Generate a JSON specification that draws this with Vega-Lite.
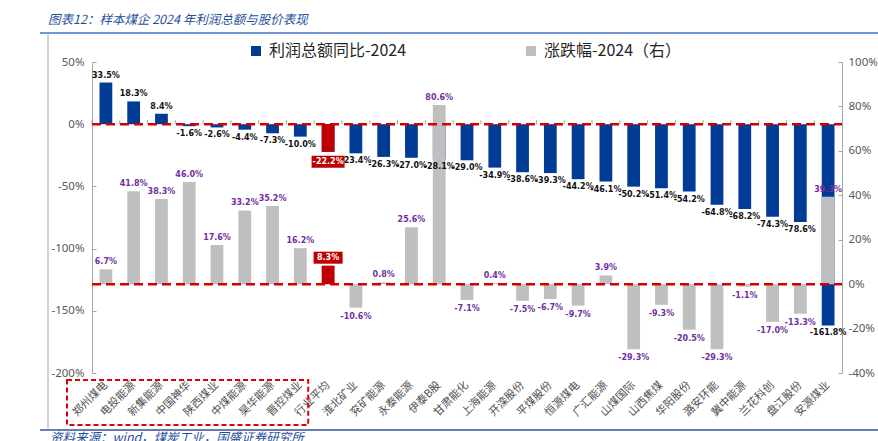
{
  "$schema": "https://vega.github.io/schema/vega-lite/v6.json",
  "width": 750,
  "height": 311,
  "autosize": {"type": "none"},
  "padding": {"left": 92, "top": 62, "right": 36, "bottom": 68},
  "background": "white",
  "config": {
    "view": {"stroke": null},
    "locale": {"number": {"decimal": ".", "thousands": ",", "grouping": [3], "currency": ["", ""], "minus": "-"}}
  },
  "title": {
    "text": "图表12：样本煤企 2024 年利润总额与股价表现",
    "anchor": "start",
    "frame": "group",
    "dx": -44,
    "offset": 6,
    "font": "Noto Sans CJK SC",
    "fontSize": 12.5,
    "fontStyle": "italic",
    "fontWeight": "normal",
    "color": "#1F4E9A"
  },
  "data": {
    "values": [
      {"name": "郑州煤电", "profit": 33.5, "change": 6.7},
      {"name": "电投能源", "profit": 18.3, "change": 41.8},
      {"name": "新集能源", "profit": 8.4, "change": 38.3},
      {"name": "中国神华", "profit": -1.6, "change": 46.0},
      {"name": "陕西煤业", "profit": -2.6, "change": 17.6},
      {"name": "中煤能源", "profit": -4.4, "change": 33.2},
      {"name": "昊华能源", "profit": -7.3, "change": 35.2},
      {"name": "晋控煤业", "profit": -10.0, "change": 16.2},
      {"name": "行业平均", "profit": -22.2, "change": 8.3},
      {"name": "淮北矿业", "profit": -23.4, "change": -10.6},
      {"name": "兖矿能源", "profit": -26.3, "change": 0.8},
      {"name": "永泰能源", "profit": -27.0, "change": 25.6},
      {"name": "伊泰B股", "profit": -28.1, "change": 80.6},
      {"name": "甘肃能化", "profit": -29.0, "change": -7.1},
      {"name": "上海能源", "profit": -34.9, "change": 0.4},
      {"name": "开滦股份", "profit": -38.6, "change": -7.5},
      {"name": "平煤股份", "profit": -39.3, "change": -6.7},
      {"name": "恒源煤电", "profit": -44.2, "change": -9.7},
      {"name": "广汇能源", "profit": -46.1, "change": 3.9},
      {"name": "山煤国际", "profit": -50.2, "change": -29.3},
      {"name": "山西焦煤", "profit": -51.4, "change": -9.3},
      {"name": "华阳股份", "profit": -54.2, "change": -20.5},
      {"name": "潞安环能", "profit": -64.8, "change": -29.3},
      {"name": "冀中能源", "profit": -68.2, "change": -1.1},
      {"name": "兰花科创", "profit": -74.3, "change": -17.0},
      {"name": "盘江股份", "profit": -78.6, "change": -13.3},
      {"name": "安源煤业", "profit": -161.8, "change": 39.3}
    ]
  },
  "layer": [
    {
      "mark": {"type": "bar", "width": {"band": 0.46}},
      "encoding": {
        "x": {
          "field": "name",
          "type": "nominal",
          "title": null,
          "scale": {
            "domain": ["郑州煤电", "电投能源", "新集能源", "中国神华", "陕西煤业", "中煤能源", "昊华能源", "晋控煤业", "行业平均", "淮北矿业", "兖矿能源", "永泰能源", "伊泰B股", "甘肃能化", "上海能源", "开滦股份", "平煤股份", "恒源煤电", "广汇能源", "山煤国际", "山西焦煤", "华阳股份", "潞安环能", "冀中能源", "兰花科创", "盘江股份", "安源煤业"],
            "paddingInner": 0,
            "paddingOuter": 0
          },
          "axis": {
            "title": null,
            "labelAngle": -45,
            "labelAlign": "right",
            "labelBaseline": "middle",
            "labelFont": "Noto Sans CJK SC",
            "labelFontSize": 11,
            "labelColor": "#505050",
            "labelPadding": 10,
            "labelOverlap": false,
            "domain": false,
            "ticks": false
          }
        },
        "y": {
          "field": "profit",
          "type": "quantitative",
          "scale": {"domain": [-200, 50], "nice": false},
          "axis": {
            "orient": "left",
            "values": [-200, -150, -100, -50, 0, 50],
            "labelExpr": "datum.value + '%'",
            "grid": false,
            "title": null,
            "domainColor": "#A6A6A6",
            "tickColor": "#A6A6A6",
            "tickSize": -4,
            "labelPadding": 12,
            "labelFont": "Noto Sans",
            "labelFontSize": 11.5,
            "labelColor": "#595959"
          }
        },
        "y2": {"datum": 0},
        "color": {
          "datum": "利润总额同比-2024",
          "type": "nominal",
          "scale": {"domain": ["利润总额同比-2024", "涨跌幅-2024（右）"], "range": ["#003C96", "#BFBFBF"]},
          "legend": {
            "orient": "none",
            "legendX": 156,
            "legendY": -19,
            "direction": "horizontal",
            "title": null,
            "symbolType": "square",
            "symbolSize": 100,
            "symbolStrokeWidth": 0,
            "labelFont": "Noto Sans CJK SC",
            "labelFontSize": 16,
            "labelColor": "#262626",
            "labelOffset": 5,
            "labelLimit": 300,
            "columnPadding": 116
          }
        }
      }
    },
    {
      "transform": [{"filter": "datum.name === '行业平均'"}],
      "mark": {"type": "bar", "width": {"band": 0.46}, "color": "#C00000"},
      "encoding": {
        "x": {"field": "name", "type": "nominal"},
        "y": {"field": "profit", "type": "quantitative", "scale": {"domain": [-200, 50], "nice": false}, "axis": null},
        "y2": {"datum": 0}
      }
    },
    {
      "mark": {"type": "bar", "width": {"band": 0.46}},
      "encoding": {
        "x": {"field": "name", "type": "nominal"},
        "y": {
          "field": "change",
          "type": "quantitative",
          "scale": {"domain": [-40, 100], "nice": false},
          "axis": {
            "orient": "right",
            "values": [-40, -20, 0, 20, 40, 60, 80, 100],
            "labelExpr": "datum.value + '%'",
            "grid": false,
            "title": null,
            "domainColor": "#A6A6A6",
            "tickColor": "#A6A6A6",
            "tickSize": -4,
            "labelPadding": 10,
            "labelFont": "Noto Sans",
            "labelFontSize": 11.5,
            "labelColor": "#595959"
          }
        },
        "y2": {"datum": 0},
        "color": {"datum": "涨跌幅-2024（右）", "type": "nominal"}
      }
    },
    {
      "transform": [{"filter": "datum.name === '行业平均'"}],
      "mark": {"type": "bar", "width": {"band": 0.46}, "color": "#C00000"},
      "encoding": {
        "x": {"field": "name", "type": "nominal"},
        "y": {"field": "change", "type": "quantitative", "scale": {"domain": [-40, 100], "nice": false}, "axis": null},
        "y2": {"datum": 0}
      }
    },
    {
      "mark": {"type": "rule", "color": "#A6A6A6", "strokeWidth": 1, "y2Offset": -4},
      "encoding": {
        "x": {"field": "name", "type": "nominal", "bandPosition": 0},
        "y": {"datum": 0, "type": "quantitative", "scale": {"domain": [-200, 50], "nice": false}, "axis": null},
        "y2": {"datum": 0}
      }
    },
    {
      "data": {"values": [{}]},
      "mark": {"type": "rule", "color": "#D40000", "strokeWidth": 2.5, "strokeDash": [9, 5]},
      "encoding": {
        "x": {"datum": "郑州煤电", "bandPosition": 0},
        "x2": {"datum": "安源煤业", "bandPosition": 1},
        "y": {"datum": 0, "type": "quantitative", "scale": {"domain": [-200, 50], "nice": false}, "axis": null}
      }
    },
    {
      "data": {"values": [{}]},
      "mark": {"type": "rule", "color": "#D40000", "strokeWidth": 2.5, "strokeDash": [9, 5]},
      "encoding": {
        "x": {"datum": "郑州煤电", "bandPosition": 0},
        "x2": {"datum": "安源煤业", "bandPosition": 1},
        "y": {"datum": 0, "type": "quantitative", "scale": {"domain": [-40, 100], "nice": false}, "axis": null}
      }
    },
    {
      "transform": [
        {"filter": "datum.name !== '行业平均'"},
        {"calculate": "format(datum.profit, '.1f') + '%'", "as": "plabel"}
      ],
      "mark": {
        "type": "text",
        "font": "DejaVu Sans",
        "fontSize": 8,
        "fontWeight": "bold",
        "color": "#111111",
        "baseline": {"expr": "datum.profit < 0 ? 'top' : 'bottom'"},
        "dy": {"expr": "datum.profit < 0 ? 4 : -3"}
      },
      "encoding": {
        "x": {"field": "name", "type": "nominal"},
        "y": {"field": "profit", "type": "quantitative", "scale": {"domain": [-200, 50], "nice": false}, "axis": null},
        "text": {"field": "plabel"}
      }
    },
    {
      "transform": [
        {"filter": "datum.name !== '行业平均'"},
        {"calculate": "format(datum.change, '.1f') + '%'", "as": "clabel"}
      ],
      "mark": {
        "type": "text",
        "font": "DejaVu Sans",
        "fontSize": 8,
        "fontWeight": "bold",
        "color": "#7030A0",
        "baseline": {"expr": "datum.change < 0 ? 'top' : 'bottom'"},
        "dy": {"expr": "datum.change < 0 ? 5 : -3"}
      },
      "encoding": {
        "x": {"field": "name", "type": "nominal"},
        "y": {"field": "change", "type": "quantitative", "scale": {"domain": [-40, 100], "nice": false}, "axis": null},
        "text": {"field": "clabel"}
      }
    },
    {
      "transform": [{"filter": "datum.name === '行业平均'"}],
      "mark": {"type": "bar", "width": 33, "color": "#C00000", "yOffset": 4, "y2Offset": 16},
      "encoding": {
        "x": {"field": "name", "type": "nominal"},
        "y": {"field": "profit", "type": "quantitative", "scale": {"domain": [-200, 50], "nice": false}, "axis": null},
        "y2": {"field": "profit"}
      }
    },
    {
      "transform": [
        {"filter": "datum.name === '行业平均'"},
        {"calculate": "format(datum.profit, '.1f') + '%'", "as": "plabel"}
      ],
      "mark": {"type": "text", "font": "DejaVu Sans", "fontSize": 8, "fontWeight": "bold", "color": "white", "baseline": "middle", "dy": 10},
      "encoding": {
        "x": {"field": "name", "type": "nominal"},
        "y": {"field": "profit", "type": "quantitative", "scale": {"domain": [-200, 50], "nice": false}, "axis": null},
        "text": {"field": "plabel"}
      }
    },
    {
      "transform": [{"filter": "datum.name === '行业平均'"}],
      "mark": {"type": "bar", "width": 29, "color": "#C00000", "yOffset": -14, "y2Offset": -2},
      "encoding": {
        "x": {"field": "name", "type": "nominal"},
        "y": {"field": "change", "type": "quantitative", "scale": {"domain": [-40, 100], "nice": false}, "axis": null},
        "y2": {"field": "change"}
      }
    },
    {
      "transform": [
        {"filter": "datum.name === '行业平均'"},
        {"calculate": "format(datum.change, '.1f') + '%'", "as": "clabel"}
      ],
      "mark": {"type": "text", "font": "DejaVu Sans", "fontSize": 8, "fontWeight": "bold", "color": "white", "baseline": "middle", "dy": -8},
      "encoding": {
        "x": {"field": "name", "type": "nominal"},
        "y": {"field": "change", "type": "quantitative", "scale": {"domain": [-40, 100], "nice": false}, "axis": null},
        "text": {"field": "clabel"}
      }
    },
    {
      "data": {"values": [{}]},
      "mark": {"type": "rect", "fillOpacity": 0, "stroke": "#E00000", "strokeWidth": 2, "strokeDash": [5, 3], "xOffset": -25, "x2Offset": -6},
      "encoding": {
        "x": {"datum": "郑州煤电", "bandPosition": 0},
        "x2": {"datum": "行业平均", "bandPosition": 0},
        "y": {"datum": -205.6, "type": "quantitative", "scale": {"domain": [-200, 50], "nice": false}, "axis": null},
        "y2": {"datum": -241.8}
      }
    },
    {
      "data": {"values": [{}]},
      "mark": {"type": "rule", "color": "#4472C4", "strokeWidth": 1.5, "xOffset": -52, "x2Offset": 36},
      "encoding": {
        "x": {"datum": "郑州煤电", "bandPosition": 0},
        "x2": {"datum": "安源煤业", "bandPosition": 1},
        "y": {"datum": 73.3, "type": "quantitative", "scale": {"domain": [-200, 50], "nice": false}, "axis": null}
      }
    },
    {
      "data": {"values": [{}]},
      "mark": {"type": "rule", "color": "#2F5597", "strokeWidth": 1.5, "xOffset": -52, "x2Offset": 36},
      "encoding": {
        "x": {"datum": "郑州煤电", "bandPosition": 0},
        "x2": {"datum": "安源煤业", "bandPosition": 1},
        "y": {"datum": -245.8, "type": "quantitative", "scale": {"domain": [-200, 50], "nice": false}, "axis": null}
      }
    },
    {
      "data": {"values": [{}]},
      "mark": {"type": "rule", "color": "#A6A6A6", "strokeWidth": 1, "xOffset": -44},
      "encoding": {
        "x": {"datum": "郑州煤电", "bandPosition": 0},
        "y": {"datum": 72, "type": "quantitative", "scale": {"domain": [-200, 50], "nice": false}, "axis": null},
        "y2": {"datum": -245.8}
      }
    },
    {
      "data": {"values": [{"note": "资料来源：wind，煤炭工业，国盛证券研究所"}]},
      "mark": {"type": "text", "font": "Noto Sans CJK SC", "fontSize": 12.5, "fontStyle": "italic", "color": "#1F4E9A", "align": "left", "baseline": "top", "xOffset": -42, "yOffset": 2},
      "encoding": {
        "x": {"datum": "郑州煤电", "bandPosition": 0},
        "y": {"datum": -245.8, "type": "quantitative", "scale": {"domain": [-200, 50], "nice": false}, "axis": null},
        "text": {"field": "note"}
      }
    }
  ],
  "resolve": {"scale": {"y": "independent"}}
}
